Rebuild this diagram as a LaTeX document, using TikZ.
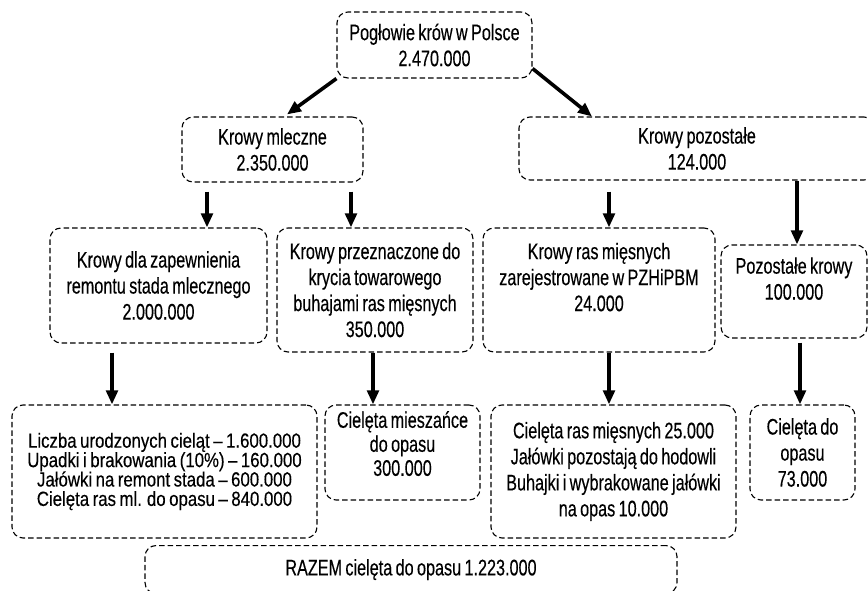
\documentclass[tikz,border=0pt]{standalone}
\usepackage{fontspec}
\setmainfont{Liberation Sans}[FakeStretch=0.72,FakeBold=0.3,WordSpace=0.75]
\newfontfamily\efont{Liberation Sans}[FakeStretch=0.82,FakeBold=0.3,WordSpace=0.75]
\usetikzlibrary{arrows.meta}
\tikzset{
  box/.style={draw=black, line width=1.1pt, dash pattern=on 5.5pt off 3pt,
    rounded corners=11pt, align=center, inner sep=0pt,
    font=\fontsize{22.5}{26}\selectfont},
  arr/.style={line width=3.6pt, -{Triangle[width=11.5pt,length=14pt]}},
}
\begin{document}
\begin{tikzpicture}[x=1pt,y=-1pt]
\path[use as bounding box, clip] (0,0) rectangle (868,591);
\fill[white] (0,0) rectangle (868,591);
% level 0
\node[box, minimum width=195pt, minimum height=66pt] (top) at (434.5,45) {Pogłowie krów w Polsce\\2.470.000};
% level 1
\node[box, minimum width=181pt, minimum height=65pt] (ml) at (272.5,149.5) {Krowy mleczne\\2.350.000};
\node[box, minimum width=356pt, minimum height=63pt] (po) at (697,148.5) {Krowy pozostałe\\124.000};
% level 2
\node[box, minimum width=217pt, minimum height=115pt] (A) at (158.5,285.5) {Krowy dla zapewnienia\\remontu stada mlecznego\\2.000.000};
\node[box, minimum width=196pt, minimum height=124pt] (B) at (375,290) {Krowy przeznaczone do\\krycia towarowego\\buhajami ras mięsnych\\350.000};
\node[box, minimum width=232pt, minimum height=124pt] (C) at (599,290) {Krowy ras mięsnych\\zarejestrowane w PZHiPBM\\24.000\\\mbox{}};
\node[box, minimum width=146pt, minimum height=93pt] (D) at (794,291.5) {Pozostałe krowy\\100.000\\\mbox{}};
% level 3
\node[box, minimum width=305pt, minimum height=133pt, font=\efont\fontsize{20.5}{19.4}\selectfont] (E) at (164.5,471.5) {Liczba urodzonych cieląt – 1.600.000\\Upadki i brakowania (10\%) – 160.000\\Jałówki na remont stada – 600.000\\Cielęta ras ml. do opasu – 840.000};
\node[box, minimum width=155pt, minimum height=95pt, font=\fontsize{22.5}{24}\selectfont] (F) at (402.5,452.5) {Cielęta mieszańce\\do opasu\\300.000\\[-6pt]\mbox{}};
\node[box, minimum width=245pt, minimum height=133pt] (G) at (613.5,471.5) {Cielęta ras mięsnych 25.000\\Jałówki pozostają do hodowli\\Buhajki i wybrakowane jałówki\\na opas 10.000};
\node[box, minimum width=105pt, minimum height=95pt] (H) at (802.5,452.5) {Cielęta do\\opasu\\73.000};
% bottom
\node[box, minimum width=532pt, minimum height=48pt, anchor=north] (R) at (411,545) {RAZEM cielęta do opasu 1.223.000};
% arrows
\draw[arr] (top.south west) -- ([xshift=14.5pt,yshift=2pt]ml.north);
\draw[arr] ([yshift=10pt]top.south east) -- ([xshift=-105pt]po.north);
\draw[arr] ([xshift=-65.5pt,yshift=-9pt]ml.south) -- ([xshift=48.5pt]A.north);
\draw[arr] ([xshift=78.5pt,yshift=-9pt]ml.south) -- ([xshift=-24pt]B.north);
\draw[arr] ([xshift=-88pt,yshift=-11pt]po.south) -- ([xshift=10pt]C.north);
\draw[arr] ([xshift=100pt]po.south) -- ([xshift=3pt]D.north);
\draw[arr] ([xshift=-46.5pt,yshift=-9pt]A.south) -- ([xshift=-52.5pt]E.north);
\draw[arr] ([xshift=-2pt]B.south) -- ([xshift=-29.5pt]F.north);
\draw[arr] ([xshift=10pt]C.south) -- ([xshift=-4.5pt]G.north);
\draw[arr] ([xshift=6pt,yshift=-4pt]D.south) -- ([xshift=-2.5pt]H.north);
\end{tikzpicture}
\end{document}
